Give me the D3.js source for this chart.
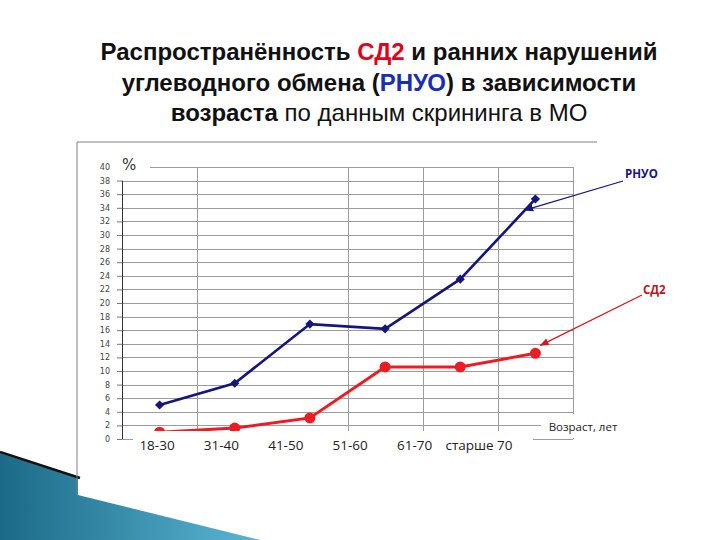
<!DOCTYPE html>
<html>
<head>
<meta charset="utf-8">
<script src="https://cdn.jsdelivr.net/npm/d3@7"></script>
<style>
  body { margin: 0; background: #fff; }
  svg { display: block; }
</style>
</head>
<body>
<svg id="chart" width="720" height="540"></svg>
<script>
// chart data
const categories = ['18-30', '31-40', '41-50', '51-60', '61-70', 'старше 70'];
const rnuo = [5.0, 8.2, 16.9, 16.2, 23.5, 35.3];
const sd2 = [1.0, 1.6, 3.1, 10.6, 10.6, 12.6];
const yTicks = d3.range(0, 42, 2);

// title pieces (text, weight, colour)
const titleLines = [
  [['Распространённость ', 'bold', '#111'], ['СД2', 'bold', '#e3001b'], [' и ранних нарушений', 'bold', '#111']],
  [['углеводного обмена (', 'bold', '#111'], ['РНУО', 'bold', '#1a2db5'], [') в зависимости', 'bold', '#111']],
  [['возраста', 'bold', '#111'], [' по данным скрининга в МО', 'normal', '#111']]
];

const svg = d3.select('#chart');
const plot = { left: 122, right: 573, top: 167, bottom: 439 };

// bottom-left decoration
const grad = svg.append('defs').append('linearGradient')
  .attr('id', 'teal').attr('x1', '0').attr('x2', '1').attr('y1', '0').attr('y2', '0');
grad.append('stop').attr('offset', '0%').attr('stop-color', '#1b6a87');
grad.append('stop').attr('offset', '100%').attr('stop-color', '#5ab6d4');
svg.append('path')
  .attr('d', 'M0,453 L78,478 L78,495 L260,540 L0,540 Z')
  .attr('fill', 'url(#teal)');
svg.append('path')
  .attr('d', 'M0,452 L80,478')
  .attr('stroke', '#111').attr('stroke-width', 2.5);

// chart frame
svg.append('path')
  .attr('d', 'M77,495 L77,142 L597,142')
  .attr('fill', 'none').attr('stroke', '#808080').attr('stroke-width', 1);

// title
const title = svg.append('g').attr('font-family', '"Liberation Sans", Arial, sans-serif')
  .attr('font-size', 24).attr('text-anchor', 'middle');
titleLines.forEach(function (line, i) {
  const t = title.append('text').attr('x', 379).attr('y', 60 + i * 30.5);
  line.forEach(function (p) {
    t.append('tspan').text(p[0]).attr('font-weight', p[1]).attr('fill', p[2]);
  });
});

// scales
const x = d3.scalePoint().domain(categories).range([plot.left, plot.right]).padding(0.5);
const band = d3.scaleBand().domain(categories).range([plot.left, plot.right]);
const y = d3.scaleLinear().domain([0, 40]).range([plot.bottom, plot.top]);
const labelX = d3.scalePoint().domain(categories).range([157, 479]);

// grid
svg.append('g').selectAll('line').data(yTicks).enter().append('line')
  .attr('x1', plot.left).attr('x2', plot.right)
  .attr('y1', function (d) { return Math.round(y(d)) + 0.5; })
  .attr('y2', function (d) { return Math.round(y(d)) + 0.5; })
  .attr('stroke', '#9c9c9c').attr('stroke-width', 1);

svg.append('g').selectAll('line').data(categories.filter(function (c, i) { return i !== 1; })).enter().append('line')
  .attr('x1', function (c) { return Math.round(band(c) + band.bandwidth()) + 0.5; })
  .attr('x2', function (c) { return Math.round(band(c) + band.bandwidth()) + 0.5; })
  .attr('y1', y(40)).attr('y2', y(0))
  .attr('stroke', '#9c9c9c').attr('stroke-width', 1);

// y axis
const yAxis = svg.append('g')
  .attr('transform', 'translate(' + plot.left + ',0)')
  .call(d3.axisLeft(y).tickValues(yTicks).tickSize(5).tickPadding(7));
yAxis.select('.domain').remove();
yAxis.selectAll('.tick line').attr('stroke', '#777');
yAxis.selectAll('.tick text')
  .attr('font-family', '"DejaVu Sans", sans-serif').attr('font-size', 8).attr('fill', '#444');
svg.append('line')
  .attr('x1', plot.left + 0.5).attr('x2', plot.left + 0.5)
  .attr('y1', y(38)).attr('y2', y(0))
  .attr('stroke', '#333').attr('stroke-width', 1);

// series
const line = d3.line()
  .x(function (d, i) { return x(categories[i]); })
  .y(function (d) { return y(d); });

svg.append('path').datum(rnuo)
  .attr('d', line).attr('fill', 'none')
  .attr('stroke', '#15157e').attr('stroke-width', 2.6);
svg.append('g').selectAll('path').data(rnuo).enter().append('path')
  .attr('d', d3.symbol(d3.symbolSquare, 42))
  .attr('transform', function (d, i) { return 'translate(' + x(categories[i]) + ',' + y(d) + ')rotate(45)'; })
  .attr('fill', '#15157e');

svg.append('path').datum(sd2)
  .attr('d', line).attr('fill', 'none')
  .attr('stroke', '#ec1c24').attr('stroke-width', 3);
svg.append('g').selectAll('circle').data(sd2).enter().append('circle')
  .attr('cx', function (d, i) { return x(categories[i]); })
  .attr('cy', function (d) { return y(d); })
  .attr('r', 5.5)
  .attr('fill', '#ec1c24');

// "%" label
svg.append('rect').attr('x', 113).attr('y', 158).attr('width', 37).attr('height', 20).attr('fill', '#fff');
svg.append('text').text('%')
  .attr('x', 122).attr('y', 170)
  .attr('font-family', '"DejaVu Sans", sans-serif').attr('font-size', 15).attr('fill', '#333');

// category labels sit on a white box that hides the bottom of the plot
svg.append('rect').attr('x', 133).attr('y', 431).attr('width', 400).attr('height', 32).attr('fill', '#fff');
svg.append('g').selectAll('text').data(categories).enter().append('text')
  .attr('x', function (c) { return labelX(c); })
  .attr('y', 450)
  .attr('text-anchor', 'middle')
  .attr('font-family', '"Open Sans", sans-serif').attr('font-size', 13.5).attr('fill', '#222')
  .text(function (c) { return c; });

svg.append('rect').attr('x', 541).attr('y', 414).attr('width', 84).attr('height', 24).attr('fill', '#fff');
svg.append('text').text('Возраст, лет')
  .attr('x', 583).attr('y', 431).attr('text-anchor', 'middle')
  .attr('font-family', '"Open Sans", sans-serif').attr('font-size', 11.5).attr('fill', '#222');

// callouts
const defs = svg.select('defs');
function arrowMarker(id, color) {
  defs.append('marker').attr('id', id)
    .attr('viewBox', '0 0 10 10').attr('refX', 9).attr('refY', 5)
    .attr('markerWidth', 7).attr('markerHeight', 7).attr('orient', 'auto')
    .append('path').attr('d', 'M0,1 L10,5 L0,9 Z').attr('fill', color);
}
arrowMarker('arrBlue', '#15157e');
arrowMarker('arrRed', '#d01820');

const last = categories.length - 1;
const p4 = [x(categories[last - 1]), y(rnuo[last - 1])];
const p5 = [x(categories[last]), y(rnuo[last])];
const rnuoTip = [p4[0] + (p5[0] - p4[0]) * 0.86, p4[1] + (p5[1] - p4[1]) * 0.86];
const sdTip = [x(categories[last]) + 5, y(sd2[last]) - 8];

svg.append('line')
  .attr('x1', plot.right + 50).attr('y1', 181)
  .attr('x2', rnuoTip[0]).attr('y2', rnuoTip[1])
  .attr('stroke', '#15157e').attr('stroke-width', 1.3)
  .attr('marker-end', 'url(#arrBlue)');
svg.append('text').text('РНУО')
  .attr('x', plot.right + 52).attr('y', 178)
  .attr('font-family', '"Open Sans", sans-serif').attr('font-weight', 'bold')
  .attr('font-size', 11.5).attr('fill', '#15157e');

svg.append('line')
  .attr('x1', plot.right + 69).attr('y1', 295)
  .attr('x2', sdTip[0]).attr('y2', sdTip[1])
  .attr('stroke', '#d01820').attr('stroke-width', 1.3)
  .attr('marker-end', 'url(#arrRed)');
svg.append('text').text('СД2')
  .attr('x', plot.right + 70).attr('y', 294)
  .attr('font-family', '"Open Sans", sans-serif').attr('font-weight', 'bold')
  .attr('font-size', 11.5).attr('fill', '#c0141c');
</script>
</body>
</html>
